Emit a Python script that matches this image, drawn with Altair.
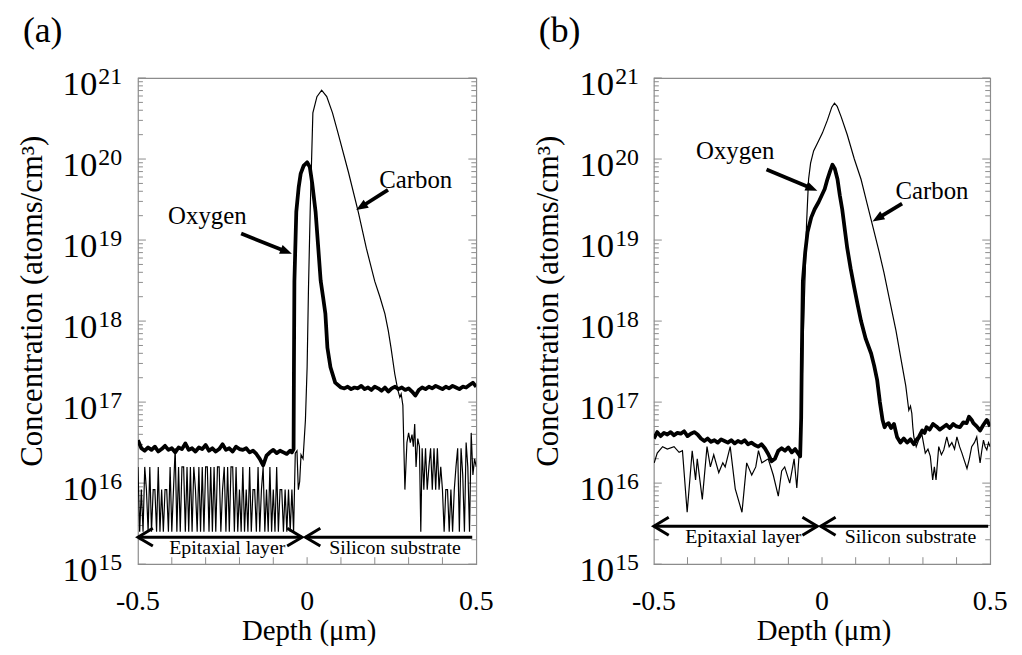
import math
import altair as alt
import pandas as pd

FONT = "Liberation Serif"
FRAME = "#8c8c8c"

# ---------------- data: (depth in um, log10 concentration) ----------------
oxygen_a = [
    (-0.50, 16.53), (-0.49, 16.43), (-0.48, 16.40), (-0.47, 16.44), (-0.46, 16.41), (-0.45, 16.45),
    (-0.44, 16.39), (-0.43, 16.42), (-0.42, 16.46), (-0.41, 16.41), (-0.40, 16.43), (-0.39, 16.38),
    (-0.38, 16.44), (-0.37, 16.42), (-0.36, 16.49), (-0.35, 16.41), (-0.34, 16.43), (-0.33, 16.39),
    (-0.32, 16.44), (-0.31, 16.42), (-0.30, 16.47), (-0.29, 16.40), (-0.28, 16.43), (-0.27, 16.39),
    (-0.26, 16.42), (-0.25, 16.48), (-0.24, 16.41), (-0.23, 16.43), (-0.22, 16.39), (-0.21, 16.45),
    (-0.20, 16.42), (-0.19, 16.41), (-0.18, 16.43), (-0.17, 16.38), (-0.16, 16.40), (-0.15, 16.36),
    (-0.14, 16.30), (-0.13, 16.22), (-0.12, 16.34), (-0.11, 16.38), (-0.10, 16.41), (-0.09, 16.37),
    (-0.08, 16.40), (-0.07, 16.38), (-0.06, 16.36), (-0.05, 16.40),
    (-0.045, 16.38), (-0.040, 16.42), (-0.039, 17.40), (-0.0376, 18.49), (-0.032, 19.35),
    (-0.025, 19.65), (-0.019, 19.82), (-0.010, 19.92), (0.000, 19.96), (0.008, 19.90),
    (0.015, 19.70), (0.025, 19.35), (0.033, 18.90), (0.040, 18.50), (0.047, 18.30),
    (0.054, 18.09), (0.060, 17.67), (0.069, 17.43), (0.083, 17.24), (0.100, 17.18),
    (0.11, 17.17), (0.12, 17.19), (0.13, 17.16), (0.14, 17.18), (0.15, 17.17), (0.16, 17.20),
    (0.17, 17.16), (0.18, 17.18), (0.19, 17.15), (0.20, 17.19), (0.21, 17.17), (0.22, 17.14),
    (0.23, 17.18), (0.24, 17.13), (0.25, 17.17), (0.26, 17.19), (0.27, 17.16), (0.28, 17.18),
    (0.29, 17.15), (0.30, 17.17), (0.31, 17.13), (0.32, 17.08), (0.33, 17.15), (0.34, 17.18),
    (0.35, 17.16), (0.36, 17.19), (0.37, 17.17), (0.38, 17.20), (0.39, 17.18), (0.40, 17.16),
    (0.41, 17.19), (0.42, 17.17), (0.43, 17.20), (0.44, 17.18), (0.45, 17.16), (0.46, 17.19),
    (0.47, 17.18), (0.48, 17.21), (0.49, 17.24), (0.50, 17.19),
]

carbon_a = [
    (-0.500, 16.20), (-0.495, 15.40), (-0.490, 15.92), (-0.485, 15.40), (-0.480, 16.20),
    (-0.475, 15.92), (-0.470, 15.40), (-0.465, 16.20), (-0.460, 15.40), (-0.455, 15.92),
    (-0.450, 15.92), (-0.445, 15.40), (-0.440, 16.20), (-0.435, 15.40), (-0.430, 15.92),
    (-0.425, 15.40), (-0.420, 15.92), (-0.415, 15.92), (-0.410, 15.40), (-0.405, 16.20),
    (-0.400, 15.40), (-0.395, 15.92), (-0.390, 16.43), (-0.385, 15.40), (-0.380, 16.20),
    (-0.375, 15.40), (-0.370, 16.20), (-0.365, 16.20), (-0.360, 15.40), (-0.355, 16.20),
    (-0.350, 15.40), (-0.345, 16.20), (-0.340, 15.40), (-0.335, 16.20), (-0.330, 15.92),
    (-0.325, 15.40), (-0.320, 16.20), (-0.315, 15.40), (-0.310, 16.20), (-0.305, 15.40),
    (-0.300, 16.20), (-0.295, 16.20), (-0.290, 15.40), (-0.285, 16.20), (-0.280, 15.40),
    (-0.275, 16.20), (-0.270, 15.40), (-0.265, 16.20), (-0.260, 16.20), (-0.255, 15.40),
    (-0.250, 15.92), (-0.245, 16.20), (-0.240, 15.40), (-0.235, 16.20), (-0.230, 15.40),
    (-0.225, 16.20), (-0.220, 16.20), (-0.215, 15.40), (-0.210, 16.20), (-0.205, 15.40),
    (-0.200, 15.92), (-0.195, 15.40), (-0.190, 16.20), (-0.185, 15.40), (-0.180, 15.92),
    (-0.175, 15.40), (-0.170, 16.20), (-0.165, 15.40), (-0.160, 15.92), (-0.155, 15.92),
    (-0.150, 15.40), (-0.145, 16.20), (-0.140, 15.40), (-0.135, 15.92), (-0.130, 16.20),
    (-0.125, 15.40), (-0.120, 15.92), (-0.115, 15.40), (-0.110, 16.20), (-0.105, 15.40),
    (-0.100, 15.92), (-0.095, 15.40), (-0.090, 16.20), (-0.085, 15.40), (-0.080, 15.92),
    (-0.075, 15.92), (-0.070, 15.40), (-0.065, 15.92), (-0.060, 15.40), (-0.055, 15.92),
    (-0.050, 15.40), (-0.045, 15.92),
    (-0.040, 15.40), (-0.035, 16.37), (-0.030, 16.40), (-0.026, 15.92),
    (-0.022, 16.02), (-0.018, 16.35), (-0.012, 16.30), (-0.005, 16.78), (0.000, 17.43),
    (0.004, 18.40), (0.009, 19.35), (0.017, 20.57), (0.029, 20.77), (0.043, 20.85),
    (0.058, 20.77), (0.075, 20.57), (0.092, 20.31), (0.122, 19.84), (0.151, 19.35),
    (0.175, 18.90), (0.200, 18.49), (0.215, 18.30), (0.230, 18.09), (0.240, 17.88),
    (0.248, 17.67), (0.259, 17.35), (0.268, 17.15), (0.274, 17.06), (0.278, 17.10),
    (0.283, 16.96), (0.289, 15.92), (0.295, 16.50), (0.300, 16.62), (0.305, 16.50),
    (0.310, 16.60), (0.314, 16.45), (0.318, 16.73), (0.322, 16.20), (0.327, 16.55), (0.332, 16.45),
    (0.336, 15.40), (0.340, 16.43), (0.345, 15.92), (0.350, 16.43), (0.355, 15.92), (0.360, 16.20),
    (0.365, 16.43), (0.370, 15.92), (0.375, 16.43), (0.380, 15.92), (0.385, 16.43), (0.390, 15.92),
    (0.395, 16.20), (0.400, 15.92), (0.405, 15.40), (0.410, 15.92), (0.415, 15.92), (0.420, 15.40),
    (0.425, 15.92), (0.430, 15.40), (0.435, 15.92), (0.440, 16.20), (0.445, 16.43), (0.450, 15.40),
    (0.455, 16.43), (0.460, 16.10), (0.465, 15.40), (0.470, 16.50), (0.475, 16.20), (0.480, 15.40),
    (0.485, 16.62), (0.490, 16.10), (0.495, 16.30), (0.500, 16.20),
]

oxygen_b = [
    (-0.50, 16.55), (-0.49, 16.63), (-0.48, 16.58), (-0.47, 16.62), (-0.46, 16.60), (-0.45, 16.63),
    (-0.44, 16.59), (-0.43, 16.62), (-0.42, 16.61), (-0.41, 16.64), (-0.40, 16.58), (-0.39, 16.61),
    (-0.38, 16.63), (-0.37, 16.60), (-0.36, 16.55), (-0.35, 16.52), (-0.34, 16.55), (-0.33, 16.51),
    (-0.32, 16.53), (-0.31, 16.50), (-0.30, 16.54), (-0.29, 16.52), (-0.28, 16.50), (-0.27, 16.53),
    (-0.26, 16.49), (-0.25, 16.52), (-0.24, 16.50), (-0.23, 16.53), (-0.22, 16.48), (-0.21, 16.50),
    (-0.20, 16.47), (-0.19, 16.45), (-0.18, 16.48), (-0.17, 16.43), (-0.16, 16.36), (-0.15, 16.27),
    (-0.14, 16.30), (-0.13, 16.40), (-0.12, 16.43), (-0.11, 16.40), (-0.10, 16.44), (-0.09, 16.38),
    (-0.08, 16.42), (-0.07, 16.36), (-0.065, 16.33),
    (-0.062, 16.80), (-0.060, 17.60), (-0.057, 18.49), (-0.050, 18.85), (-0.043, 19.10),
    (-0.032, 19.28), (-0.022, 19.38), (-0.010, 19.47), (-0.001, 19.55), (0.008, 19.63),
    (0.016, 19.75), (0.024, 19.85), (0.031, 19.93), (0.038, 19.88), (0.046, 19.75),
    (0.053, 19.55), (0.060, 19.38), (0.068, 19.12), (0.075, 18.90), (0.085, 18.65),
    (0.096, 18.41), (0.106, 18.20), (0.116, 18.00), (0.130, 17.78), (0.146, 17.60),
    (0.155, 17.45), (0.164, 17.27), (0.172, 17.00), (0.180, 16.78), (0.186, 16.69),
    (0.190, 16.72), (0.198, 16.74), (0.205, 16.68), (0.214, 16.73), (0.223, 16.57), (0.233, 16.50),
    (0.243, 16.55), (0.253, 16.50), (0.263, 16.54), (0.273, 16.48), (0.280, 16.53), (0.288, 16.57),
    (0.298, 16.65), (0.305, 16.62), (0.311, 16.69), (0.320, 16.66), (0.330, 16.73), (0.340, 16.70),
    (0.350, 16.66), (0.360, 16.69), (0.370, 16.72), (0.380, 16.68), (0.390, 16.73), (0.400, 16.70),
    (0.410, 16.69), (0.420, 16.75), (0.430, 16.74), (0.437, 16.82), (0.445, 16.78), (0.450, 16.74),
    (0.460, 16.70), (0.470, 16.65), (0.480, 16.72), (0.490, 16.78), (0.500, 16.70),
]

carbon_b = [
    (-0.499, 16.25), (-0.490, 16.37), (-0.474, 16.45), (-0.460, 16.42), (-0.440, 16.45),
    (-0.425, 16.38), (-0.415, 16.40), (-0.401, 15.64), (-0.386, 16.40), (-0.376, 16.04),
    (-0.371, 16.30), (-0.356, 15.80), (-0.342, 16.45), (-0.332, 16.20), (-0.322, 16.35),
    (-0.307, 16.13), (-0.295, 16.25), (-0.288, 16.20), (-0.273, 16.45), (-0.258, 15.93),
    (-0.238, 15.64), (-0.224, 16.25), (-0.209, 16.10), (-0.197, 16.20), (-0.189, 16.40),
    (-0.179, 16.25), (-0.160, 16.30), (-0.145, 16.10), (-0.130, 15.84), (-0.120, 16.15),
    (-0.111, 16.20), (-0.096, 16.00), (-0.083, 16.30), (-0.075, 15.94), (-0.069, 16.30),
    (-0.062, 16.60), (-0.056, 17.80), (-0.050, 18.60), (-0.046, 19.20), (-0.040, 19.75),
    (-0.034, 19.95), (-0.025, 20.10), (-0.013, 20.20), (0.001, 20.32), (0.016, 20.48),
    (0.029, 20.64), (0.037, 20.69), (0.045, 20.65), (0.057, 20.52), (0.075, 20.30),
    (0.096, 20.00), (0.116, 19.75), (0.134, 19.45), (0.155, 19.10), (0.170, 18.85),
    (0.184, 18.60), (0.199, 18.30), (0.220, 17.88), (0.234, 17.55), (0.249, 17.20),
    (0.258, 16.90), (0.263, 16.95), (0.267, 16.86), (0.270, 16.69), (0.273, 16.57),
    (0.280, 16.45), (0.287, 16.53), (0.297, 16.60), (0.307, 16.37), (0.315, 16.42),
    (0.322, 16.33), (0.329, 16.04), (0.334, 16.20), (0.339, 16.04), (0.347, 16.45),
    (0.355, 16.35), (0.362, 16.41), (0.371, 16.57), (0.378, 16.45), (0.386, 16.50),
    (0.394, 16.42), (0.401, 16.57), (0.409, 16.45), (0.416, 16.37), (0.423, 16.28),
    (0.431, 16.18), (0.438, 16.30), (0.445, 16.45), (0.453, 16.50), (0.460, 16.57),
    (0.465, 16.40), (0.470, 16.25), (0.475, 16.40), (0.480, 16.53), (0.485, 16.45),
    (0.490, 16.41), (0.495, 16.50), (0.500, 16.45),
]

# axis texts
decades = [15, 16, 17, 18, 19, 20, 21]
minor_steps = [2, 3, 4, 5, 6, 7, 8, 9]
x_minor_ticks = [-0.4, -0.3, -0.2, -0.1, 0.0, 0.1, 0.2, 0.3, 0.4]
x_label_values = [-0.5, 0.0, 0.5]
x_label_texts = ["-0.5", "0", "0.5"]
x_title = "Depth (\u03bcm)"
y_title = "Concentration (atoms/cm\u00b3)"
series_names = ["Oxygen", "Carbon"]

# annotations per panel: label positions (depth, log10 conc), arrows (tail -> tip)
panel_tags = ["(a)", "(b)"]
label_pos = [
    [(-0.295, 19.29), (0.321, 19.74)],
    [(-0.258, 20.10), (0.327, 19.61)],
]
arrow_tail = [
    [(-0.195, 19.08), (0.239, 19.62)],
    [(-0.165, 19.87), (0.238, 19.45)],
]
arrow_tip = [
    [(-0.045, 18.83), (0.145, 19.37)],
    [(-0.014, 19.61), (0.150, 19.23)],
]
layer_names = ["Epitaxial layer", "Silicon substrate"]
layer_text_x = [[-0.236, 0.260], [-0.234, 0.263]]
layer_line_log = [15.333, 15.468]
layer_segments = [
    [(-0.5, -0.015), (-0.005, 0.488)],
    [(-0.5, -0.014), (-0.004, 0.494)],
]

# ---------------- layout / style ----------------
H = 490
WIDTHS = [341, 339]
DECADE_PX = H / 6.0
TEN_RIGHT = [-41, -40]   # right edge of "10" relative to plot left

xs = alt.Scale(domain=[-0.5, 0.5], nice=False, zero=False)
ys = alt.Scale(type="log", domain=[1e15, 1e21], nice=False)


def X(field):
    return alt.X(field, type="quantitative", scale=xs, axis=None)


def Y(field):
    return alt.Y(field, type="quantitative", scale=ys, axis=None)


def series_df(pairs):
    return pd.DataFrame({
        "depth": [p[0] for p in pairs],
        "conc": [10 ** p[1] for p in pairs],
        "i": list(range(len(pairs))),
    })


def make_panel(k, oxygen, carbon):
    W = WIDTHS[k]
    layers = []

    # ticks (inside)
    major = pd.DataFrame({"v": [10.0 ** e for e in decades]})
    minor = pd.DataFrame({"v": [m * 10.0 ** e for e in decades[:-1] for m in minor_steps]})
    for df, ln in ((major, 8), (minor, 5)):
        layers.append(alt.Chart(df).mark_rule(color=FRAME, strokeWidth=1).encode(
            y=Y("v"), x=alt.value(0), x2=alt.value(ln)))
        layers.append(alt.Chart(df).mark_rule(color=FRAME, strokeWidth=1).encode(
            y=Y("v"), x=alt.value(W), x2=alt.value(W - ln)))
    layers.append(alt.Chart(pd.DataFrame({"d": x_minor_ticks})).mark_rule(
        color=FRAME, strokeWidth=1).encode(x=X("d"), y=alt.value(H), y2=alt.value(H - 7)))

    # data lines
    layers.append(alt.Chart(series_df(carbon)).mark_line(
        color="black", strokeWidth=1.2, clip=True).encode(
        x=X("depth"), y=Y("conc"), order="i:Q"))
    layers.append(alt.Chart(series_df(oxygen)).mark_line(
        color="black", strokeWidth=3.8, clip=True, strokeJoin="round").encode(
        x=X("depth"), y=Y("conc"), order="i:Q"))

    # y tick labels 10^n
    ylab = pd.DataFrame({"v": [10.0 ** e for e in decades], "base": ["10"] * len(decades),
                         "exp": [str(e) for e in decades]})
    layers.append(alt.Chart(ylab).mark_text(font=FONT, fontSize=35, align="right",
                                            baseline="alphabetic", dy=17, color="black").encode(
        y=Y("v"), x=alt.value(TEN_RIGHT[k]), text="base:N"))
    layers.append(alt.Chart(ylab).mark_text(font=FONT, fontSize=24, align="left",
                                            baseline="alphabetic", dy=6, color="black").encode(
        y=Y("v"), x=alt.value(TEN_RIGHT[k] + 1), text="exp:N"))

    # x tick labels
    xlab = pd.DataFrame({"d": x_label_values, "t": x_label_texts})
    layers.append(alt.Chart(xlab).mark_text(font=FONT, fontSize=28, baseline="alphabetic",
                                            color="black").encode(
        x=X("d"), y=alt.value(H + 46), text="t:N"))

    # axis titles and tag
    layers.append(alt.Chart(pd.DataFrame({"t": [x_title]})).mark_text(
        font=FONT, fontSize=29, baseline="alphabetic", color="black").encode(
        x=alt.value(W / 2 + 2), y=alt.value(H + 76), text="t:N"))
    layers.append(alt.Chart(pd.DataFrame({"t": [y_title]})).mark_text(
        font=FONT, fontSize=31, angle=270, baseline="middle", align="center", color="black").encode(
        x=alt.value(-106), y=alt.value(225), text="t:N"))
    layers.append(alt.Chart(pd.DataFrame({"t": [panel_tags[k]]})).mark_text(
        font=FONT, fontSize=36, align="left", baseline="alphabetic", color="black").encode(
        x=alt.value(-116), y=alt.value(-36), text="t:N"))

    # series labels
    lab = pd.DataFrame({"t": series_names,
                        "d": [p[0] for p in label_pos[k]],
                        "c": [10 ** p[1] for p in label_pos[k]]})
    layers.append(alt.Chart(lab).mark_text(font=FONT, fontSize=25, baseline="middle",
                                           color="black").encode(x=X("d"), y=Y("c"), text="t:N"))

    # arrows: shaft + head
    rows = []
    for (tx, tl), (hx, hl) in zip(arrow_tail[k], arrow_tip[k]):
        dxp = (hx - tx) * W
        dyp = -(hl - tl) * DECADE_PX
        length = math.hypot(dxp, dyp)
        f = 1 - 9.0 / length
        rows.append({"x1": tx, "y1": 10 ** tl, "x2": tx + f * (hx - tx),
                     "y2": 10 ** (tl + f * (hl - tl)), "hx": hx, "hy": 10 ** hl,
                     "ang": (math.degrees(math.atan2(dyp, dxp)) + 360) % 360})
    arr = pd.DataFrame(rows)
    layers.append(alt.Chart(arr).mark_rule(color="black", strokeWidth=3.8).encode(
        x=X("x1"), y=Y("y1"), x2="x2:Q", y2="y2:Q"))
    layers.append(alt.Chart(arr).mark_point(
        shape="M0,0L-2,-0.8L-2,0.8Z", filled=True, size=144, color="black", opacity=1).encode(
        x=X("hx"), y=Y("hy"), angle=alt.Angle("ang:Q", scale=None)))

    # layer arrows at the bottom
    yline = 10 ** layer_line_log[k]
    segs = pd.DataFrame({"a": [s[0] for s in layer_segments[k]],
                         "b": [s[1] for s in layer_segments[k]],
                         "y": [yline, yline]})
    layers.append(alt.Chart(segs).mark_rule(color="black", strokeWidth=3).encode(
        x=X("a"), x2="b:Q", y=Y("y")))
    heads = pd.DataFrame({
        "d": [layer_segments[k][0][0], layer_segments[k][0][1], layer_segments[k][1][0]],
        "y": [yline] * 3,
        "ang": [0, 180, 0],
    })
    layers.append(alt.Chart(heads).mark_point(
        shape="M2.5,-1.5L0,0L2.5,1.5", filled=False, size=144, color="black",
        strokeWidth=3, opacity=1).encode(
        x=X("d"), y=Y("y"), angle=alt.Angle("ang:Q", scale=None)))
    ltxt = pd.DataFrame({"t": layer_names, "d": layer_text_x[k], "y": [yline, yline]})
    layers.append(alt.Chart(ltxt).mark_text(font=FONT, fontSize=20, baseline="middle",
                                            dy=11, color="black").encode(
        x=X("d"), y=Y("y"), text="t:N"))

    return alt.layer(*layers).properties(width=W, height=H)


pa = make_panel(0, oxygen_a, carbon_a)
pb = make_panel(1, oxygen_b, carbon_b)

chart = alt.hconcat(pa, pb, spacing=179, bounds="flush").properties(
    padding={"left": 8, "top": 2, "right": 5, "bottom": 5}
).configure_view(stroke=FRAME, strokeWidth=1.2)

chart.save("out.html", embed_options={"renderer": "svg", "actions": False})
